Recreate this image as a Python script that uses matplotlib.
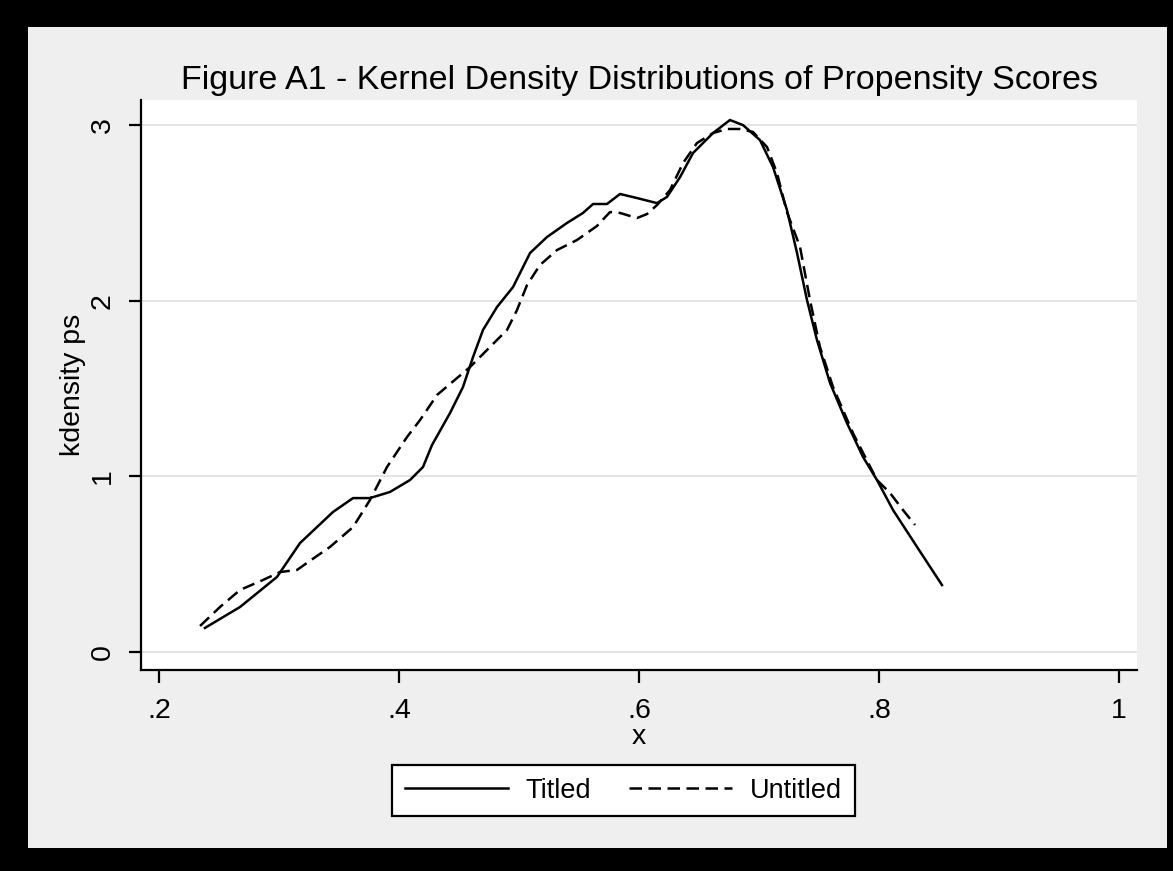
import matplotlib
matplotlib.use('Agg')
import matplotlib.pyplot as plt
from matplotlib.patches import Rectangle

plt.rcParams['font.family'] = ['Liberation Sans', 'DejaVu Sans']

# ---- data ----
titled_x = [0.2383, 0.2675, 0.2983, 0.3175, 0.345, 0.3617, 0.3758, 0.3925, 0.4092, 0.42,
            0.4275, 0.4425, 0.4533, 0.4617, 0.47, 0.4817, 0.495, 0.5092, 0.5233, 0.54,
            0.5533, 0.5617, 0.5733, 0.5842, 0.5983, 0.615, 0.6233, 0.6342, 0.645, 0.6617,
            0.6758, 0.6867, 0.7008, 0.7117, 0.7233, 0.7317, 0.74, 0.7483, 0.7592, 0.7733,
            0.7867, 0.7983, 0.8117, 0.8317, 0.8525]
titled_y = [0.137, 0.256, 0.427, 0.620, 0.797, 0.876, 0.876, 0.911, 0.979, 1.053,
            1.178, 1.360, 1.508, 1.679, 1.833, 1.964, 2.077, 2.271, 2.362, 2.442,
            2.499, 2.550, 2.550, 2.607, 2.584, 2.555, 2.590, 2.703, 2.840, 2.954,
            3.028, 2.999, 2.914, 2.760, 2.516, 2.271, 2.003, 1.776, 1.531, 1.303,
            1.110, 0.979, 0.808, 0.598, 0.381]

untitled_x = [0.2342, 0.2508, 0.2675, 0.2867, 0.3008, 0.315, 0.3233, 0.3425, 0.3617, 0.3758,
              0.39, 0.4067, 0.4175, 0.4317, 0.4592, 0.4758, 0.49, 0.4983, 0.5067, 0.5175,
              0.5317, 0.5483, 0.565, 0.5758, 0.5842, 0.5983, 0.6067, 0.615, 0.6258, 0.6367,
              0.6483, 0.6617, 0.6733, 0.6842, 0.695, 0.7067, 0.715, 0.7233, 0.7342, 0.7425,
              0.7508, 0.7617, 0.7783, 0.7983, 0.8092, 0.82, 0.83]
untitled_y = [0.148, 0.256, 0.353, 0.410, 0.455, 0.467, 0.507, 0.598, 0.711, 0.865,
              1.053, 1.224, 1.320, 1.463, 1.622, 1.736, 1.833, 1.946, 2.089, 2.203,
              2.288, 2.345, 2.425, 2.504, 2.499, 2.470, 2.493, 2.544, 2.629, 2.783,
              2.897, 2.954, 2.977, 2.977, 2.960, 2.874, 2.726, 2.504, 2.305, 2.003,
              1.736, 1.508, 1.246, 0.979, 0.905, 0.808, 0.723]

series_names = ['Titled', 'Untitled']
x_ticks = [0.2, 0.4, 0.6, 0.8, 1.0]
x_tick_labels = ['.2', '.4', '.6', '.8', '1']
y_ticks = [0, 1, 2, 3]
y_tick_labels = ['0', '1', '2', '3']
title_text = 'Figure A1 - Kernel Density Distributions of Propensity Scores'
x_label = 'x'
y_label = 'kdensity ps'

W, H = 1173, 871
fig = plt.figure(figsize=(W / 100, H / 100), dpi=100, facecolor='black')

# light gray graph region inside the black frame
fig.patches.append(Rectangle((28 / W, 1 - 848 / H), (1167 - 28) / W, (848 - 27) / H,
                             transform=fig.transFigure, facecolor='#efefef',
                             edgecolor='none', zorder=-1))

ax = fig.add_axes([141 / W, 1 - 670 / H, (1137 - 141) / W, (670 - 100) / H])
ax.set_facecolor('white')

ax.plot(titled_x, titled_y, color='black', lw=1.8, ls='-', label=series_names[0])
ax.plot(untitled_x, untitled_y, color='black', lw=1.8, ls=(0, (5, 2.6)), label=series_names[1])

ax.set_xlim(0.185, 1.015)
ax.set_ylim(-0.1025, 3.142)

ax.set_xticks(x_ticks)
ax.set_xticklabels(x_tick_labels)
ax.set_yticks(y_ticks)
ax.set_yticklabels(y_tick_labels, rotation=90, va='center')

for s in ['top', 'right']:
    ax.spines[s].set_visible(False)
for s in ['left', 'bottom']:
    ax.spines[s].set_linewidth(1.6)
    ax.spines[s].set_color('black')

ax.tick_params(axis='both', direction='out', length=9, width=1.6, labelsize=20.5,
               colors='black')
ax.tick_params(axis='x', pad=11)
ax.tick_params(axis='y', pad=9)

ax.yaxis.grid(True, color='#e2e2e2', lw=1.3)
ax.set_axisbelow(True)

fig.text(639 / W, 1 - 89 / H, title_text, ha='center', va='baseline', fontsize=24.5)
fig.text(639 / W, 1 - 744 / H, x_label, ha='center', va='baseline', fontsize=20.5)
ax.set_ylabel(y_label, fontsize=20.5)
ax.yaxis.set_label_coords((86 - 141) / 996, 0.5)

leg = fig.legend(loc='center', bbox_to_anchor=(623.5 / W, 1 - 790.5 / H), ncol=2,
                 fontsize=19.5, frameon=True, fancybox=False, framealpha=1,
                 edgecolor='black', handlelength=3.8, handletextpad=0.67,
                 columnspacing=1.4, borderpad=0.45)
leg.get_frame().set_linewidth(1.6)
leg.get_frame().set_facecolor('white')

fig.savefig('out.png', dpi=100)
